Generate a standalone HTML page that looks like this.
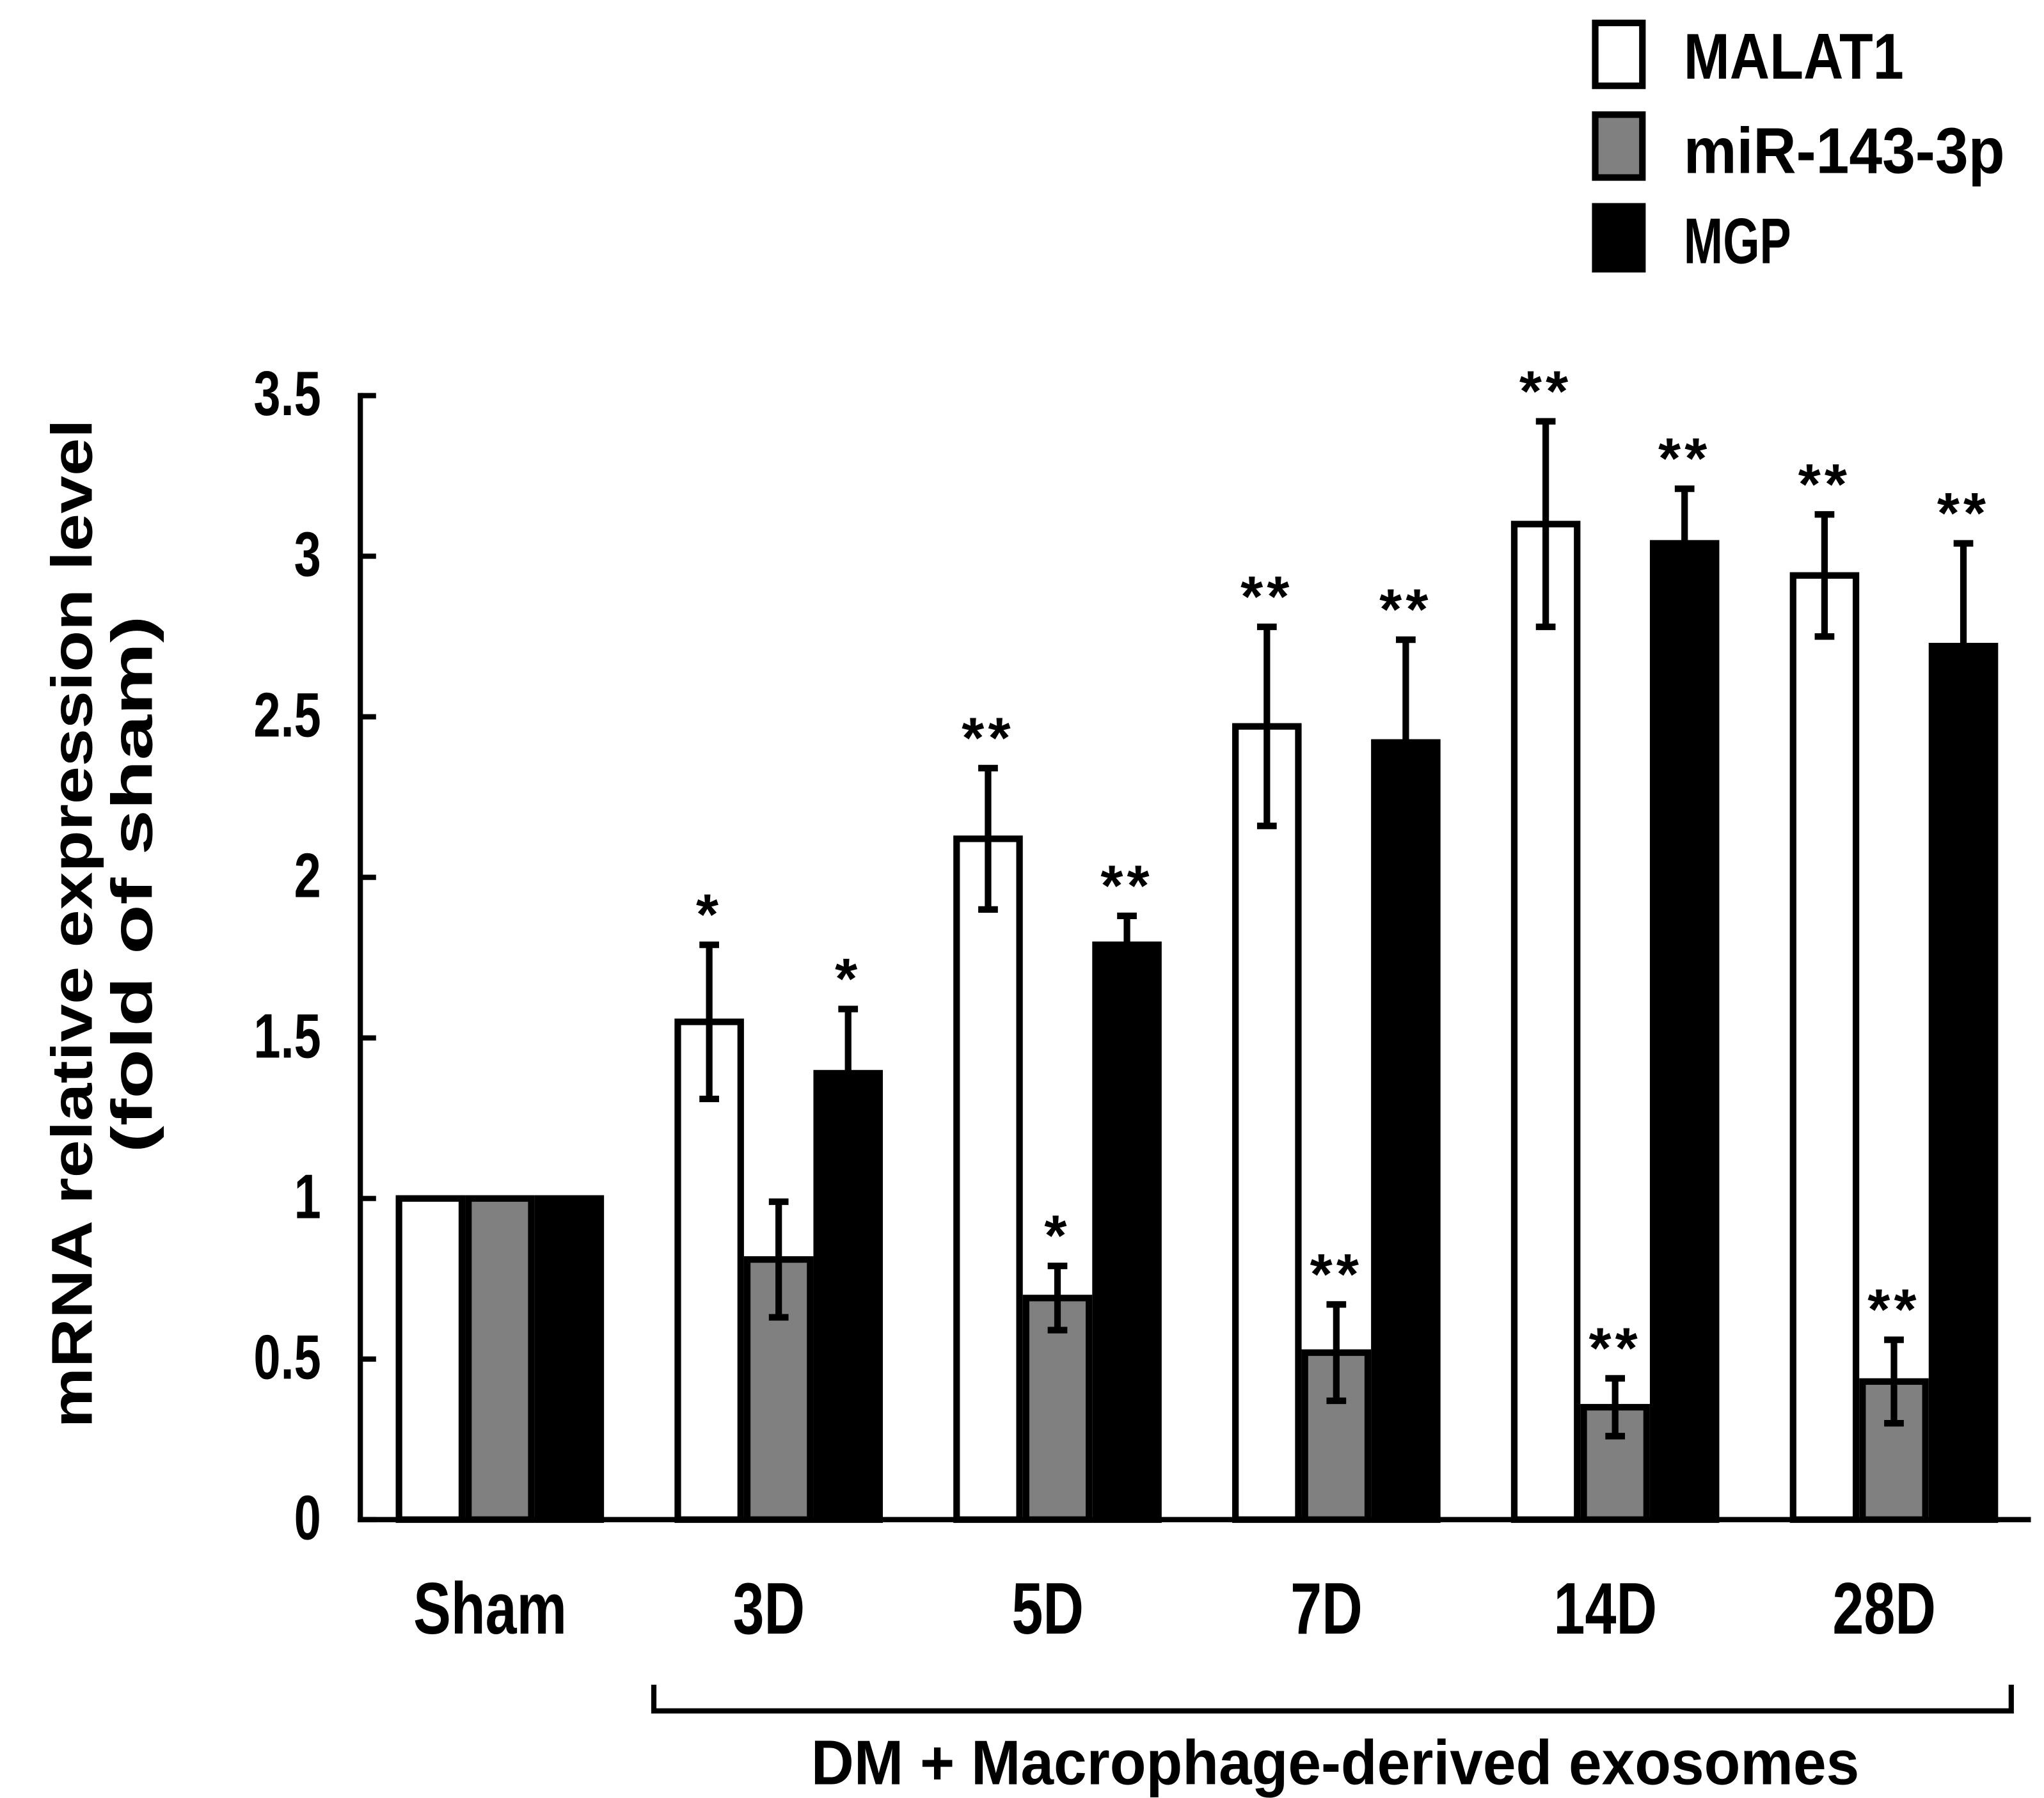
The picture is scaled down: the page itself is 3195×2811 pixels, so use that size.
<!DOCTYPE html>
<html><head><meta charset="utf-8"><style>
html,body{margin:0;padding:0;background:#fff;}
svg{display:block;}
text{font-family:"Liberation Sans",Arial,sans-serif;font-weight:bold;fill:#000;}
</style></head><body>
<svg id="chart" width="3195" height="2811" viewBox="0 0 1560 1372.5" xmlns="http://www.w3.org/2000/svg">
<g id="legend">
 <rect x="1217.5" y="17.5" width="36" height="48" fill="#fff" stroke="#000" stroke-width="5"/>
 <text transform="translate(1285,60) scale(1,1.3)" font-size="38" textLength="168" lengthAdjust="spacingAndGlyphs">MALAT1</text>
 <rect x="1217.5" y="87.5" width="36" height="48" fill="#808080" stroke="#000" stroke-width="5"/>
 <text transform="translate(1285,132) scale(1,1.3)" font-size="38" textLength="245" lengthAdjust="spacingAndGlyphs">miR-143-3p</text>
 <rect x="1215" y="155" width="41" height="53" fill="#000"/>
 <text transform="translate(1285,201) scale(1,1.3)" font-size="38" textLength="82" lengthAdjust="spacingAndGlyphs">MGP</text>
</g>
<g id="yaxis"></g>
<g id="bars"></g>
<g id="xaxis"></g>
<text transform="translate(70,705) rotate(-90)" text-anchor="middle" font-size="44" textLength="770" lengthAdjust="spacingAndGlyphs">mRNA relative expression level</text>
<text transform="translate(116,675) rotate(-90)" text-anchor="middle" font-size="44" textLength="410" lengthAdjust="spacingAndGlyphs">(fold of sham)</text>
<path d="M499,1286 V1306 H1535 V1286" fill="none" stroke="#000" stroke-width="4"/>
<text transform="translate(1019,1362) scale(1,1.2)" text-anchor="middle" font-size="40" textLength="800" lengthAdjust="spacingAndGlyphs">DM + Macrophage-derived exosomes</text>
</svg>
<script>
const categories = ["Sham","3D","5D","7D","14D","28D"];
const malat1 = [1, 1.55, 2.12, 2.47, 3.10, 2.94];
const malat1Err = [0, 0.24, 0.22, 0.31, 0.32, 0.19];
const mir143 = [1, 0.81, 0.69, 0.52, 0.35, 0.43];
const mir143Err = [0, 0.18, 0.10, 0.15, 0.09, 0.13];
const mgp = [1, 1.39, 1.79, 2.42, 3.04, 2.72];
const mgpErr = [0, 0.20, 0.09, 0.32, 0.17, 0.32];
const malat1Sig = ["", "*", "**", "**", "**", "**"];
const mir143Sig = ["", "", "*", "**", "**", "**"];
const mgpSig = ["", "*", "**", "**", "**", "**"];
const yTicks = [0, 0.5, 1, 1.5, 2, 2.5, 3, 3.5];
const yTickLabels = ["0","0.5","1","1.5","2","2.5","3","3.5"];

const NS = "http://www.w3.org/2000/svg";
const X0 = 275, Y0 = 1160, YMAX = 3.5, YTOP = 302;
const y = v => Y0 - v / YMAX * (Y0 - YTOP);
const groupX = i => 302 + 212.8 * i;
const BW = 53;
function mk(tag, attrs, parent){const e=document.createElementNS(NS,tag);for(const k in attrs)e.setAttribute(k,attrs[k]);parent.appendChild(e);return e;}
const yaxis=document.getElementById('yaxis'), bars=document.getElementById('bars'), xaxis=document.getElementById('xaxis');

let ax = mk('line',{x1:X0,y1:y(3.5)-2,x2:X0,y2:Y0+2,stroke:'#000','stroke-width':4},yaxis);


yTicks.forEach((t,i)=>{
  const tk = mk('line',{x1:X0,y1:y(t),x2:X0+12,y2:y(t),stroke:'#000','stroke-width':4},yaxis);
  
  
  const lb = mk('text',{transform:`translate(245,${y(t)+15}) scale(1,1.3)`,'text-anchor':'end','font-size':37},yaxis);
  lb.textContent = yTickLabels[i];
  
  
});
const xl = mk('line',{x1:X0-2,y1:Y0,x2:1550,y2:Y0,stroke:'#000','stroke-width':4},xaxis);



const series = [
  {vals:malat1, err:malat1Err, sig:malat1Sig, fill:'#fff', name:'malat1'},
  {vals:mir143, err:mir143Err, sig:mir143Sig, fill:'#808080', name:'mir143'},
  {vals:mgp, err:mgpErr, sig:mgpSig, fill:'#000', name:'mgp'}
];
categories.forEach((c,i)=>{
  series.forEach((s,j)=>{
    const x = groupX(i) + j*BW;
    const v = s.vals[i];
    const r = mk('rect',{x:x+2.5,y:y(v),width:BW-5,height:Y0-y(v),fill:s.fill,stroke:'#000','stroke-width':5},bars);
    
    
    const cx = x + BW/2;
    if (s.err[i] > 0) {
      const e = mk('path',{d:`M${cx},${y(v+s.err[i])} V${y(v-s.err[i])} M${cx-7.5},${y(v+s.err[i])} H${cx+7.5} M${cx-7.5},${y(v-s.err[i])} H${cx+7.5}`,stroke:'#000','stroke-width':5,fill:'none'},bars);
      
      
    }
    if (s.sig[i]) {
      const st = mk('text',{x:cx,y:y(v+s.err[i])-8,'text-anchor':'middle','font-size':44,'letter-spacing':'3'},bars);
      st.textContent = s.sig[i];
      
      
    }
  });
  const lbl = mk('text',{transform:`translate(${groupX(i)+72},1247) scale(1,1.3)`,'text-anchor':'middle','font-size':43},xaxis);
  lbl.textContent = c;
  
  
});
</script>
</body></html>
